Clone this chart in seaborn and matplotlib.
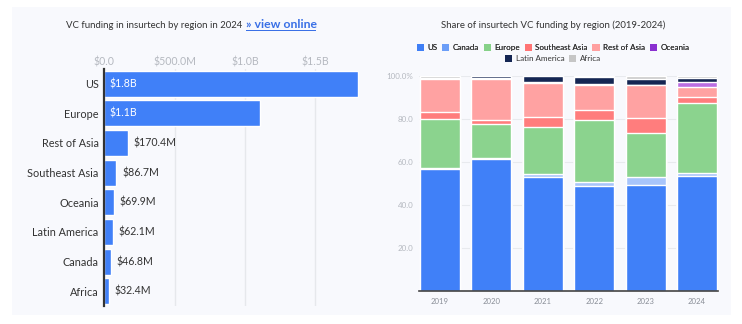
import matplotlib
matplotlib.use("Agg")
import matplotlib.pyplot as plt
import matplotlib.patches as mpatches
import seaborn as sns
import pandas as pd
import numpy as np

# ---- data ----
regions_2024 = ["US", "Europe", "Rest of Asia", "Southeast Asia", "Oceania",
                "Latin America", "Canada", "Africa"]
funding_2024_m = [1806, 1105, 170.4, 86.7, 69.9, 62.1, 46.8, 32.4]
funding_labels = ["$1.8B", "$1.1B", "$170.4M", "$86.7M", "$69.9M", "$62.1M",
                  "$46.8M", "$32.4M"]
x_ticks_m = [0, 500, 1000, 1500]
x_tick_labels = ["$0.0", "$500.0M", "$1.0B", "$1.5B"]

years = ["2019", "2020", "2021", "2022", "2023", "2024"]
share_regions = ["US", "Canada", "Europe", "Southeast Asia", "Rest of Asia",
                 "Oceania", "Latin America", "Africa"]
share_us = [56.6, 61.4, 53.2, 48.8, 49.3, 53.5]
share_canada = [0.5, 0.3, 1.4, 1.9, 3.7, 1.3]
share_europe = [22.8, 16.1, 21.8, 28.8, 20.6, 32.6]
share_sea = [3.5, 1.7, 4.4, 4.7, 6.9, 2.8]
share_roa = [15.1, 19.1, 16.1, 11.8, 15.3, 4.9]
share_oceania = [0.2, 0.3, 0.2, 0.3, 0.2, 2.1]
share_latam = [0.6, 1.1, 2.9, 3.1, 2.5, 1.9]
share_africa = [0.7, 0.0, 0.0, 0.6, 1.5, 0.9]
y_ticks = [20, 40, 60, 80, 100]
y_tick_labels = ["20.0", "40.0", "60.0", "80.0", "100.0%"]

bar_colors = ["#4080f8", "#a8c5fb", "#8bd38e", "#ff7d7d", "#ffa2a2",
              "#bb6ee2", "#142653", "#c9c9c9"]
legend_colors = ["#3f7ff6", "#6b9ef8", "#86d188", "#ff7474", "#ffa0a0",
                 "#8a30d0", "#142653", "#c6c6c6"]

FONT = ["Lato", "DejaVu Sans"]
sns.set_theme(style="white")
plt.rcParams["font.family"] = FONT

W, H = 742, 324
fig = plt.figure(figsize=(W / 100, H / 100), dpi=100, facecolor="white")

def fx(px):
    return px / W

def fy(py):
    return 1 - py / H

# background panel
fig.patches.append(mpatches.Rectangle((fx(12), fy(315)), fx(731) - fx(12),
                                      fy(7) - fy(315), transform=fig.transFigure,
                                      facecolor="#f8f9fd", edgecolor="none", zorder=-5))

# ---- left chart ----
axl = fig.add_axes([fx(104.3), fy(306), fx(360) - fx(104.3), fy(68.9) - fy(306)])
axl.set_facecolor("none")
axl.set_zorder(2)
dfl = pd.DataFrame({"region": regions_2024, "funding": funding_2024_m})
sns.barplot(data=dfl, y="region", x="funding", orient="h", color=bar_colors[0],
            saturation=1, width=0.88, ax=axl, zorder=2)
axl.set_xlim(0, 1818)
axl.set_ylim(7.5, -0.5)
axl.xaxis.tick_top()
axl.set_xticks(x_ticks_m)
axl.set_xticklabels(x_tick_labels, color="#b5b9c0", fontsize=7.6)
axl.tick_params(axis="x", length=0, pad=1)
axl.tick_params(axis="y", length=0, pad=4, labelsize=7.8, labelcolor="#333333")
axl.set_xlabel("")
axl.set_ylabel("")
for gx in x_ticks_m[1:]:
    axl.axvline(gx, color="#e6e8ec", lw=1, zorder=1)
for s in ["top", "right", "bottom"]:
    axl.spines[s].set_visible(False)
axl.spines["left"].set_color("#333333")
axl.spines["left"].set_linewidth(1.6)
axl.spines["left"].set_zorder(3)
for i, (v, lab) in enumerate(zip(funding_2024_m, funding_labels)):
    if v > 600:
        axl.text(40, i, lab, va="center", ha="left", color="white", fontsize=7.6)
    else:
        axl.text(v + 40, i, lab, va="center", ha="left", color="#333333", fontsize=7.6)

t1 = fig.text(fx(66), fy(25), "VC funding in insurtech by region in 2024", ha="left",
              va="center", fontsize=6.9, color="#333333")
fig.canvas.draw()
bb = t1.get_window_extent()
fig.text(fx(bb.x1 + 4), fy(25), "» view online", ha="left", va="center",
         fontsize=8.8, color="#3a70e6", fontweight="bold")
fig.patches.append(mpatches.Rectangle((fx(bb.x1 + 4), fy(31)), fx(70), 0.9 / H,
                                      transform=fig.transFigure, facecolor="#3a70e6",
                                      edgecolor="none"))

# ---- right chart ----
axr = fig.add_axes([fx(419), fy(291), fx(718) - fx(419), fy(76) - fy(291)])
axr.set_facecolor("none")
axr.set_zorder(2)
series = [share_us, share_canada, share_europe, share_sea, share_roa,
          share_oceania, share_latam, share_africa]
cum = np.cumsum(np.array(series), axis=0)
for k in range(len(series) - 1, -1, -1):
    dfk = pd.DataFrame({"year": years, "cum": cum[k]})
    sns.barplot(data=dfk, x="year", y="cum", color=bar_colors[k], saturation=1,
                width=0.78, ax=axr, zorder=2)
axr.set_ylim(0, 100)
axr.set_xlim(-0.41, 5.41)
axr.set_yticks(y_ticks)
axr.set_yticklabels(y_tick_labels, color="#b5b9c0", fontsize=5.8)
axr.tick_params(axis="both", length=0, pad=4)
axr.tick_params(axis="x", labelsize=5.6, labelcolor="#8a8f98", pad=5)
axr.set_xlabel("")
axr.set_ylabel("")
for gy in y_ticks:
    axr.axhline(gy, color="#e8eaee", lw=0.8, zorder=1)
for s in ["top", "right", "left"]:
    axr.spines[s].set_visible(False)
axr.spines["bottom"].set_color("#444444")
axr.spines["bottom"].set_linewidth(1.2)
axr.spines["bottom"].set_zorder(3)

fig.text(fx(553), fy(25), "Share of insurtech VC funding by region (2019-2024)",
         ha="center", va="center", fontsize=6.9, color="#333333")

handles = [mpatches.Patch(facecolor=c, edgecolor="none") for c in legend_colors]
leg1 = fig.legend(handles[:6], share_regions[:6], loc="center", ncol=6,
                  bbox_to_anchor=(fx(553), fy(47.5)), frameon=False, fontsize=5.8,
                  handlelength=0.9, handleheight=0.9, handletextpad=0.4,
                  columnspacing=0.6, borderpad=0)
for t in leg1.get_texts():
    t.set_color("#333333")
leg2 = fig.legend(handles[6:], share_regions[6:], loc="center", ncol=2,
                  bbox_to_anchor=(fx(553), fy(58.5)), frameon=False, fontsize=5.8,
                  handlelength=0.9, handleheight=0.9, handletextpad=0.4,
                  columnspacing=0.6, borderpad=0)
for t in leg2.get_texts():
    t.set_color("#333333")
fig.add_artist(leg1)

fig.savefig("out.png", dpi=100, facecolor="white")
